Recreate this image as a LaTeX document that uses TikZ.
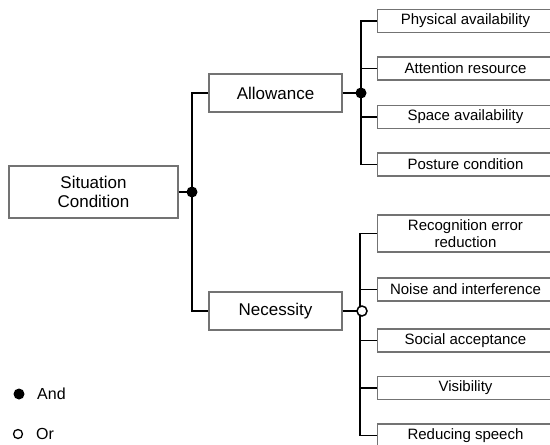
\documentclass[tikz,border=0pt]{standalone}
\usepackage{fontspec}
\setmainfont{Liberation Sans}
\usetikzlibrary{positioning}
\tikzset{
  box/.style={draw=black!55, line width=1.1pt, fill=white, minimum width=133pt, minimum height=38pt, font=\fontsize{17}{19.5}\selectfont, align=center},
  leaf/.style={draw=black!55, line width=1.1pt, fill=white, minimum width=176pt, minimum height=23pt, font=\fontsize{15}{17}\selectfont, align=center},
  link/.style={line width=1.6pt},
  andjoin/.style={circle, fill=black, inner sep=0pt, minimum size=11pt},
  orjoin/.style={circle, draw=black, fill=white, line width=1.5pt, inner sep=0pt, minimum size=10pt},
  keytext/.style={font=\fontsize{16}{18}\selectfont, inner sep=0pt}
}
\begin{document}
\begin{tikzpicture}[x=1pt,y=-1pt]
	\useasboundingbox (0,0) rectangle (550,445);
	\clip (0,0) rectangle (550,445);

	% main boxes
	\node[box, minimum width=169pt, minimum height=52pt] (sit) at (93.5,192) {Situation\\Condition};
	\node[box] (allow) at (275.5,93) {Allowance};
	\node[box] (need) at (275.5,311) {Necessity};

	% leaves
	\node[leaf] (phys) at (465.5,21) {Physical availability};
	\node[leaf] (atten) at (465.5,68.5) {Attention resource};
	\node[leaf] (space) at (465.5,117) {Space availability};
	\node[leaf] (posture) at (465.5,164.5) {Posture condition};
	\node[leaf, minimum height=37pt] (recog) at (465.5,233.5) {Recognition error\\reduction};
	\node[leaf] (noise) at (465.5,289.5) {Noise and interference};
	\node[leaf] (social) at (465.5,340.5) {Social acceptance};
	\node[leaf] (visib) at (465.5,388) {Visibility};
	\node[leaf] (speech) at (465.5,435.5) {Reducing speech};

	% joins
	\coordinate (j0) at (192,192);
	\coordinate (j1) at (361,93);
	\coordinate (j2) at (360,311);

	\draw[link] (sit.east) -- (j0);
	\draw[link] (j0) |- (allow.west);
	\draw[link] (j0) |- (need.west);

	\draw[link] (allow.east) -- (j1);
	\foreach \n in {phys,atten,space,posture}
		\draw[link] (j1) |- (\n.west);

	\draw[link] (need.east) -- (j2);
	\foreach \n in {recog,noise,social,visib,speech}
		\draw[link] (j2) |- (\n.west);

	\node[andjoin] (j0dot) at (j0) {};
	\node[andjoin] (j1dot) at (j1) {};
	\node[orjoin] (j2dot) at (362,311) {};

	% legend
	\node[andjoin, minimum size=11pt] (andkey) at (19,394) {};
	\node[keytext, anchor=west] (andtxt) at (37,394) {And};
	\node[orjoin, minimum size=9pt, line width=1.3pt] (orkey) at (18,434) {};
	\node[keytext, anchor=west] (ortxt) at (36,434) {Or};
\end{tikzpicture}
\end{document}
